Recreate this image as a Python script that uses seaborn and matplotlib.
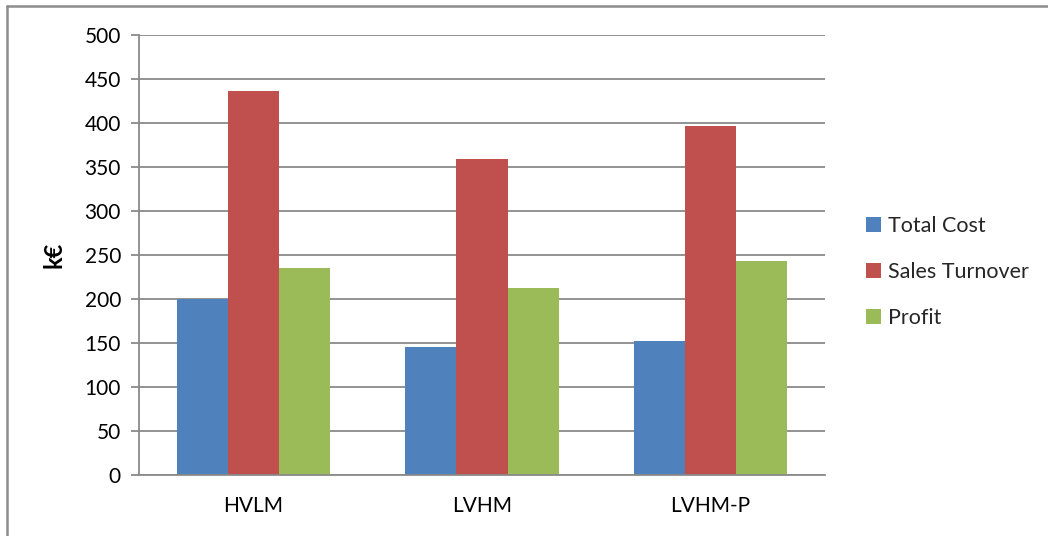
import matplotlib
matplotlib.use("Agg")
import matplotlib.pyplot as plt
import seaborn as sns
import pandas as pd
from matplotlib.lines import Line2D
from matplotlib.patches import Patch

# Scenario results in thousand euro
scenarios = ["HVLM", "LVHM", "LVHM-P"]
total_cost = [200, 145, 152]
sales_turnover = [436, 359, 397]
profit = [235, 213, 243]
series_names = ["Total Cost", "Sales Turnover", "Profit"]
colors = ["#4F81BD", "#C0504D", "#9BBB59"]
y_ticks = [0, 50, 100, 150, 200, 250, 300, 350, 400, 450, 500]

rows = []
for name, vals in zip(series_names, [total_cost, sales_turnover, profit]):
    for sc, v in zip(scenarios, vals):
        rows.append({"Scenario": sc, "Series": name, "Value": v})
df = pd.DataFrame(rows)

sns.set_theme(style="white")
plt.rcParams["font.family"] = ["Lato", "DejaVu Sans"]

W, H = 1048, 536
fig = plt.figure(figsize=(W / 100, H / 100), dpi=100)
ax = fig.add_axes([139 / W, (H - 475) / H, (825 - 139) / W, (475 - 35) / H])

sns.barplot(data=df, x="Scenario", y="Value", hue="Series", order=scenarios,
            hue_order=series_names, palette=colors, width=0.67,
            saturation=1, linewidth=0, ax=ax, legend=False)

grid_color = "#8A8A8A"
ax.set_axisbelow(True)
ax.set_ylim(0, 500)
ax.set_xlim(-0.5, 2.5)
ax.set_yticks(y_ticks)
ax.yaxis.grid(True, color=grid_color, linewidth=1.3)
ax.xaxis.grid(False)

for side in ["top", "right"]:
    ax.spines[side].set_visible(False)
for side in ["left", "bottom"]:
    ax.spines[side].set_color(grid_color)
    ax.spines[side].set_linewidth(1.3)

ax.set_xticks(range(len(scenarios)))
ax.set_xticklabels(scenarios)
ax.set_xticks([-0.5, 0.5, 1.5, 2.5], minor=True)
ax.tick_params(axis="x", which="major", length=0, pad=15, labelsize=15, labelcolor="black")
ax.tick_params(axis="x", which="minor", length=6, width=1.3, color=grid_color, direction="out")
ax.tick_params(axis="y", which="major", length=6, width=1.3, color=grid_color,
               direction="out", pad=7, labelsize=15, labelcolor="black")
ax.tick_params(left=True, bottom=True)
ax.tick_params(axis="x", which="major", bottom=False)

ax.set_xlabel("")
ax.set_ylabel("k€", fontsize=17, fontweight="bold", color="black", labelpad=14)

handles = [Patch(facecolor=c, edgecolor="none") for c in colors]
fig.legend(handles, series_names, loc="center left",
           bbox_to_anchor=(857 / W, (H - 272) / H), frameon=False,
           fontsize=15.5, handlelength=0.7, handleheight=0.7,
           handletextpad=0.35, labelspacing=1.2, borderaxespad=0)

# chart area frame
fig.add_artist(Line2D([7 / W, 7 / W], [0, (H - 6) / H], color="#8C8C8C", linewidth=1.8,
                      transform=fig.transFigure))
fig.add_artist(Line2D([7 / W, 1], [(H - 6) / H, (H - 6) / H], color="#8C8C8C", linewidth=1.8,
                      transform=fig.transFigure))

fig.savefig("out.png", dpi=100, facecolor="white")
